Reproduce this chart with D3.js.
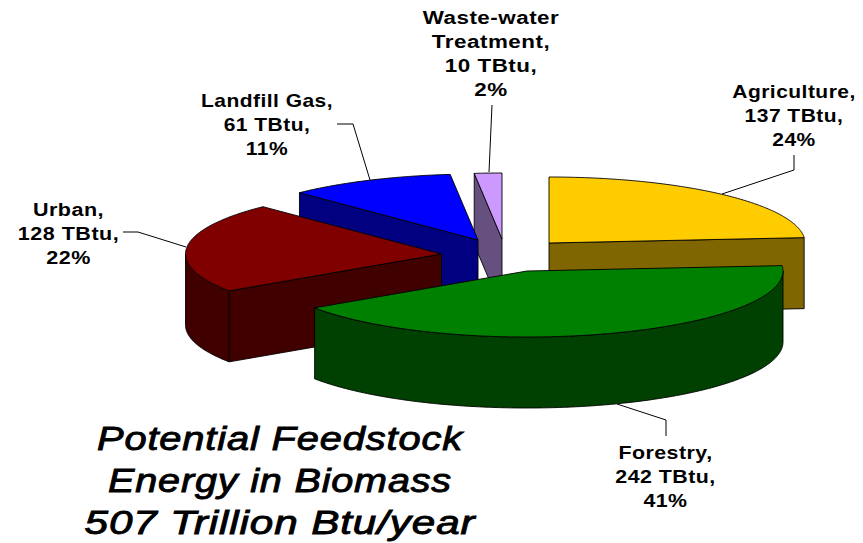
<!DOCTYPE html>
<html><head><meta charset="utf-8">
<script src="https://cdn.jsdelivr.net/npm/d3@7"></script>
<style>html,body{margin:0;padding:0;background:#fff}svg{display:block}</style>
</head><body><svg id="c" width="863" height="543"></svg>
<script>
// data
const categories = ["Agriculture","Forestry","Urban","Landfill Gas","Waste-water Treatment"];
const values = [137,242,128,61,10];
const percents = ["24%","41%","22%","11%","2%"];
const titleLines = ["Potential Feedstock","Energy in Biomass","507 Trillion Btu/year"];
const labelLines = [
  ["Agriculture,","137 TBtu,","24%"],
  ["Forestry,","242 TBtu,","41%"],
  ["Urban,","128 TBtu,","22%"],
  ["Landfill Gas,","61 TBtu,","11%"],
  ["Waste-water","Treatment,","10 TBtu,","2%"]
];
// style
const topColors = ["#FFCC00","#008000","#800000","#0000FF","#CC99FF"];
const sideColors = ["#806600","#004000","#400000","#000080","#665080"];
// layout
const RX = 256, RY = 66, DEPTH = 71;
const apex = [[549,243],[527,271],[441.5,254],[478,240],[502,239]];
const paintOrder = [4,0,3,2,1];
const labelBox = [
  {x:794,y:98,sx:1.2},{x:665.5,y:459,sx:1.22},{x:68.5,y:216,sx:1.23},{x:267,y:107,sx:1.2},{x:491,y:24,sx:1.28}
];
const titleBox = {x:280,y:450,step:42};
const titleWidths = [366,344,391];
const leaders = [
  [[794,155],[794,170],[722,194]],
  [[617,404],[666,420],[666,436]],
  [[123,232],[138,232],[186,247]],
  [[337,124],[353,124],[370,180]],
  [[492,105],[489,172]]
];
const svg = d3.select("#c");
const arcs = d3.pie().sort(null)(values);
const lineGen = d3.line();

function projector(i){
  const sx = d3.scaleLinear().domain([-1,1]).range([apex[i][0]-RX,apex[i][0]+RX]);
  const sy = d3.scaleLinear().domain([-1,1]).range([apex[i][1]-RY,apex[i][1]+RY]);
  return (a,dz=0)=>[sx(Math.sin(a)), sy(-Math.cos(a))+dz];
}
const STEP = Math.PI/360;
function samples(a0,a1){
  const n = Math.max(1,Math.ceil((a1-a0)/STEP));
  return d3.range(n+1).map(k=>a0+(a1-a0)*k/n);
}
paintOrder.forEach(i=>{
  const {startAngle:a0,endAngle:a1} = arcs[i];
  const p = projector(i);
  const g = svg.append("g").attr("class","slice").attr("data-cat",categories[i]);
  const c = apex[i];
  const wall = a=>{
    const o = p(a);
    return [c,o,[o[0],o[1]+DEPTH],[c[0],c[1]+DEPTH]];
  };
  const sideStyle = s=>s.attr("fill",sideColors[i]).attr("stroke","#000").attr("stroke-width",0.9).attr("stroke-linejoin","round");
  // cut faces turned toward the viewer
  if(Math.sin(a0) < -1e-6) g.append("path").attr("d",lineGen(wall(a0))+"Z").call(sideStyle);
  if(Math.sin(a1) > 1e-6) g.append("path").attr("d",lineGen(wall(a1))+"Z").call(sideStyle);
  // outer rim, front half only
  const r0 = Math.max(a0,Math.PI/2), r1 = Math.min(a1,3*Math.PI/2);
  if(r1>r0){
    const ang = samples(r0,r1);
    const pts = ang.map(a=>p(a)).concat(ang.slice().reverse().map(a=>p(a,DEPTH)));
    g.append("path").attr("d",lineGen(pts)+"Z").call(sideStyle);
  }
  // top face
  const top = [c].concat(samples(a0,a1).map(a=>p(a)));
  g.append("path").attr("d",lineGen(top)+"Z").attr("fill",topColors[i])
    .attr("stroke","#000").attr("stroke-width",0.9).attr("stroke-linejoin","round");
});
// leaders
leaders.forEach(l=>svg.append("path").attr("d",lineGen(l)).attr("fill","none").attr("stroke","#000").attr("stroke-width",1));
// labels (horizontally widened face)
labelLines.forEach((lines,i)=>{
  const b = labelBox[i];
  const t = svg.append("text").attr("text-anchor","middle")
    .attr("transform",`translate(${b.x},${b.y}) scale(${b.sx},1)`)
    .attr("font-family","'Liberation Sans',Arial,sans-serif").attr("font-weight","bold")
    .attr("font-size",17.5).attr("letter-spacing",0.4).attr("fill","#000");
  lines.forEach((s,k)=>t.append("tspan").attr("x",0).attr("y",k*24).text(s));
});
// title, each line fitted to its width
titleLines.forEach((s,k)=>{
  const t = svg.append("text").attr("text-anchor","middle")
    .attr("font-family","'Liberation Sans',Arial,sans-serif").attr("font-style","italic")
    .attr("font-size",33).attr("letter-spacing",0.7).attr("fill","#000")
    .attr("stroke","#000").attr("stroke-width",0.9).text(s);
  const sx = titleWidths[k]/t.node().getComputedTextLength();
  t.attr("transform",`translate(${titleBox.x},${titleBox.y+k*titleBox.step}) scale(${sx},1)`);
});
</script></body></html>
